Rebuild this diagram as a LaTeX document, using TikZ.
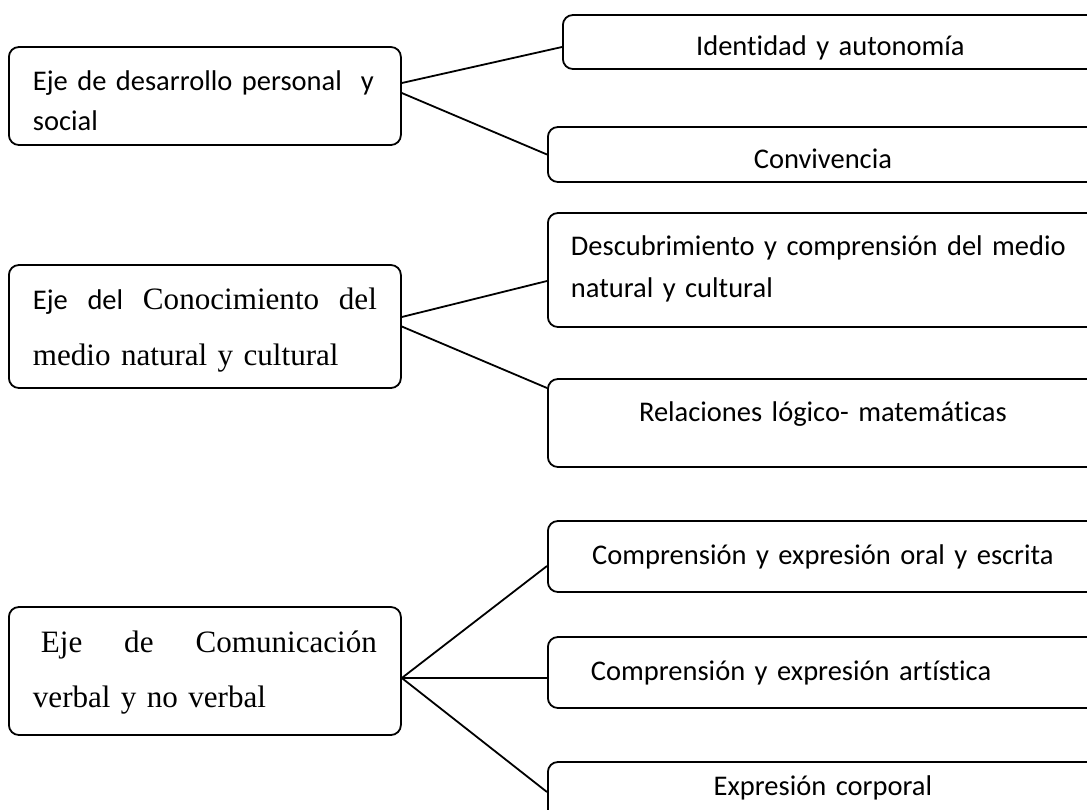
\documentclass[tikz,border=0pt]{standalone}
\usepackage{fontspec}
\setmainfont{Liberation Serif}
\newfontfamily\calfont[Ligatures = NoCommon]{Carlito}
\newcommand{\calibri}{\calfont\fontsize{14.25pt}{21pt}\selectfont}
\hyphenpenalty = 10000
\tikzset{caja/.style = {draw, rounded corners = 5pt, line width = 0.9pt, inner ysep = 0pt, anchor = base west}}
\tikzset{calibri/.style = {font = \calibri}}
\tikzset{times/.style = {font = \fontsize{15.55pt}{28pt}\selectfont}}
\tikzset{enlace/.style = {line width = 0.9pt}}

\begin{document}
\begin{tikzpicture}[x = 0.5pt, y = -0.5pt]

  \useasboundingbox (0 , 0) rectangle (1087 , 809);
  \clip (0 , 0) rectangle (1087 , 809);

  \node [caja, calibri, align = left, inner xsep = 12pt, text width = 172pt, text height = 21.5pt, text depth = 27.5pt] (ejeSocial) at (8 , 90) {Eje de desarrollo personal~ y\\[-1pt]social};
  \node [caja, times, align = left, inner xsep = 12pt, text width = 172pt, text height = 22pt, text depth = 39.5pt] (ejeMedio) at (8 , 309) {{\calibri Eje}\hfill{\calibri del}\hfill Conocimiento\hfill del\\medio natural y cultural};
  \node [caja, times, align = left, inner xsep = 12pt, text width = 172pt, text height = 22.5pt, text depth = 41.5pt] (ejeCom) at (8 , 652) {\hspace*{4pt}Eje\hfill de\hfill Comunicación\\[-0.5pt]verbal y no verbal};

  \node [caja, calibri, align = center, inner xsep = 0pt, text width = 267.5pt, text height = 20pt, text depth = 7pt] (identidad) at (562 , 55) {Identidad y autonomía};
  \node [caja, calibri, align = center, inner xsep = 0pt, text width = 275pt, text height = 20.5pt, text depth = 7pt] (convivencia) at (547 , 168) {Convivencia};

  \node [caja, calibri, align = left, inner xsep = 11.5pt, text width = 262pt, text height = 21pt, text depth = 36pt] (descubrimiento) at (547 , 255) {Descubrimiento y comprensión del medio\\natural y cultural};
  \node [caja, calibri, align = center, inner xsep = 0pt, text width = 275pt, text height = 21pt, text depth = 23pt] (relaciones) at (547 , 421) {Relaciones lógico- matemáticas};

  \node [caja, calibri, align = center, inner xsep = 0pt, text width = 275pt, text height = 21.5pt, text depth = 14pt] (oral) at (547 , 564) {Comprensión y expresión oral y escrita};
  \node [caja, calibri, align = left, inner xsep = 21.5pt, text width = 232pt, text height = 21.5pt, text depth = 14pt] (artistica) at (547 , 680) {Comprensión y expresión artística};
  \node [caja, calibri, align = center, inner xsep = 0pt, text width = 275pt, text height = 16.5pt, text depth = 19pt] (corporal) at (547 , 795) {Expresión corporal};

  \draw [enlace] ([yshift = 6.5pt] ejeSocial.east) -- ([yshift = -2.5pt] identidad.west);
  \draw [enlace] ([yshift = 1.5pt] ejeSocial.east) -- (convivencia.west);

  \draw [enlace] ([yshift = 4.75pt] ejeMedio.east) -- ([yshift = -5.5pt] descubrimiento.west);
  \draw [enlace] (ejeMedio.east) -- ([yshift = 17.5pt] relaciones.west);

  \draw [enlace] ([yshift = -3.5pt] ejeCom.east) -- ([yshift = -4.75pt] oral.west);
  \draw [enlace] ([yshift = -3.5pt] ejeCom.east) -- ([yshift = -2.75pt] artistica.west);
  \draw [enlace] ([yshift = -3.5pt] ejeCom.east) -- ([yshift = 2.75pt] corporal.west);

\end{tikzpicture}
\end{document}
